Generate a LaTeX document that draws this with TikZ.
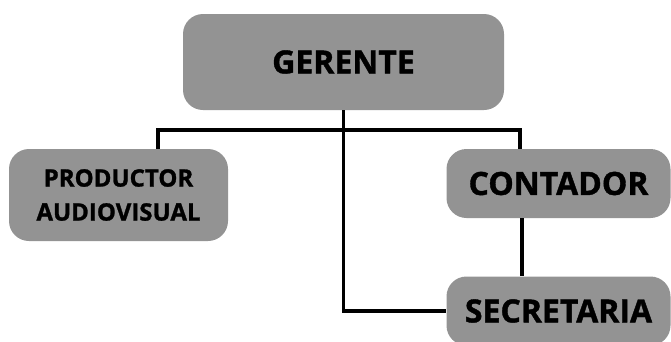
\documentclass[tikz,border=0pt]{standalone}
\usepackage{fontspec}
\setmainfont{Open Sans}[BoldFeatures={FakeBold=1.2}]
\usetikzlibrary{positioning}

\begin{document}
\begin{tikzpicture}[x=1pt, y=-1pt,
        b/.style={rectangle, fill=gray!85, rounded corners=20pt, align=center,
                  font=\bfseries, text=black, inner sep=0pt},
        ln/.style={draw=black, line width=3.5pt}]
      \useasboundingbox (0,0) rectangle (671,341);
      \node[b, minimum width=321pt, minimum height=96pt, font=\bfseries\fontsize{32}{36}\selectfont] (ger) at (343.5,62) {GERENTE};
      \node[b, minimum width=219pt, minimum height=92pt, font=\bfseries\fontsize{24}{34}\selectfont] (prod) at (118.5,195) {PRODUCTOR\\AUDIOVISUAL};
      \node[b, minimum width=224pt, minimum height=69pt, font=\bfseries\fontsize{32}{36}\selectfont] (cont) at (558.5,183.5) {CONTADOR};
      \node[b, minimum width=224pt, minimum height=69pt, font=\bfseries\fontsize{32}{36}\selectfont] (secr) at (558.5,311) {SECRETARIA};
      \coordinate (busL) at (158,130);
      \coordinate (busR) at (520,130);
      \draw[ln] (busL |- prod.north) -- (busL) -- (busR) -- (busR |- cont.north);
      \draw[ln] (ger.south) |- (secr.west);
      \draw[ln] ([xshift=-36.5pt]cont.south) -- ([xshift=-36.5pt]secr.north);
    \end{tikzpicture}
\end{document}
